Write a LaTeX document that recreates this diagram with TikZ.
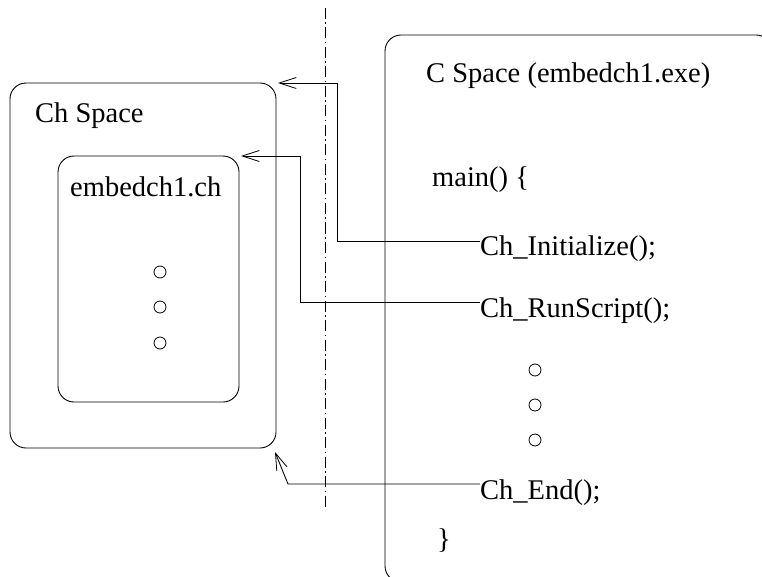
\documentclass[tikz,border=0pt]{standalone}
\usepackage{fontspec}
\setmainfont{Liberation Serif}
\usetikzlibrary{arrows.meta}
\begin{document}
\begin{tikzpicture}[x=1pt,y=-1pt,
  lbl/.style={anchor=base west,inner sep=0pt,font=\fontsize{28.5}{34}\selectfont},
  box/.style={draw,line width=0.9pt,rounded corners=16pt},
  conn/.style={draw,line width=0.9pt,-{Straight Barb[length=17pt,width=11pt,line width=0.8pt]}},
  dot/.style={draw,circle,line width=0.8pt,minimum size=12pt,inner sep=0pt}]
\useasboundingbox (0,0) rectangle (762,577);
\begin{scope}
\clip (0,0) rectangle (762,577);
\draw[box] (385,35) rectangle (772,582);
\end{scope}
\draw[box] (10,83) rectangle (276,448);
\draw[box] (58,156) rectangle (239,402);
\draw[line width=0.8pt,dash pattern=on 11pt off 3.5pt on 1.5pt off 3.5pt] (325,8) -- (325,510);
\node[lbl] (cspace) at (426,83) {C Space (embedch1.exe)};
\node[lbl] (chspace) at (35,123) {Ch Space};
\node[lbl] (script) at (70,197) {embedch1.ch};
\node[lbl] (main) at (432,187) {main() \{};
\node[lbl] (init) at (480,255) {Ch\_Initialize();};
\node[lbl] (run) at (480,317) {Ch\_RunScript();};
\node[lbl] (end) at (480,499) {Ch\_End();};
\node[lbl] (close) at (437,548) {\}};
\foreach \y/\n in {272/l1,307/l2,343/l3} \node[dot] (\n) at (160,\y) {};
\foreach \y/\n in {370/r1,405/r2,440/r3} \node[dot] (\n) at (535,\y) {};
\coordinate (ti) at (278,83);
\coordinate (tr) at (241,156);
\coordinate (te) at (275,452);
\draw[conn] (init.west |- 0,241) -- (337,241) -- (337,83) -- (ti);
\draw[conn] (run.west |- 0,302) -- (300,302) -- (300,156) -- (tr);
\draw[conn] (end.west |- 0,484) -- (288,484) -- (te);
\end{tikzpicture}
\end{document}
